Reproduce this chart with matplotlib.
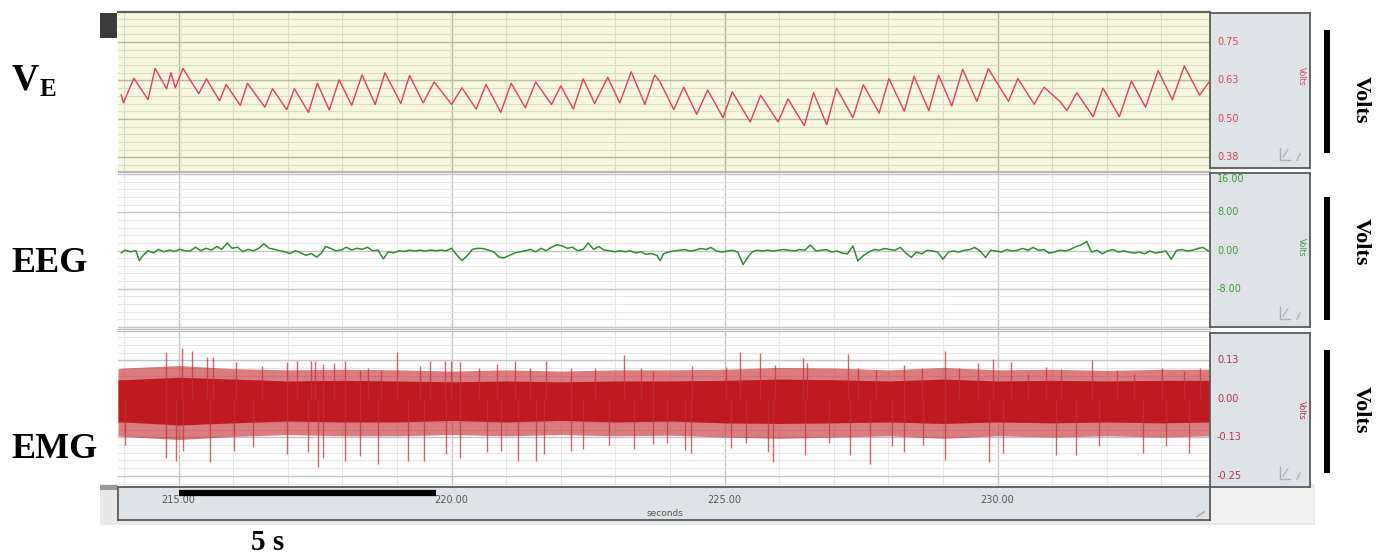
import numpy as np
import matplotlib.pyplot as plt
from matplotlib.patches import Rectangle
from matplotlib.ticker import MultipleLocator
from matplotlib.transforms import blended_transform_factory

# ---- data ----
t_lim = (213.89, 233.89)

# ventilation (V_E), peaks and troughs of the trace
ve_t = [213.95, 213.99, 214.18, 214.44, 214.57, 214.78, 214.86, 214.94, 215.08, 215.37,
        215.51, 215.75, 215.87, 216.13, 216.26, 216.58, 216.72, 216.98, 217.12, 217.38,
        217.54, 217.76, 217.94, 218.17, 218.36, 218.60, 218.78, 219.07, 219.23, 219.48,
        219.68, 220.00, 220.19, 220.45, 220.63, 220.90, 221.09, 221.35, 221.54, 221.83,
        222.00, 222.23, 222.41, 222.62, 222.86, 223.08, 223.29, 223.54, 223.72,
        223.81, 224.07, 224.25, 224.49, 224.69, 224.97, 225.14, 225.47, 225.66, 225.98,
        226.16, 226.46, 226.63, 226.87, 227.05, 227.35, 227.54, 227.83, 228.01, 228.29,
        228.47, 228.74, 228.92, 229.16, 229.36, 229.62, 229.83, 230.20, 230.37, 230.67,
        230.85, 231.14, 231.27, 231.45, 231.75, 231.93, 232.23, 232.45, 232.71, 232.94,
        233.20, 233.42, 233.70, 233.87]
ve_v = [0.578, 0.552, 0.632, 0.563, 0.664, 0.598, 0.650, 0.601, 0.664, 0.582,
        0.630, 0.559, 0.612, 0.544, 0.616, 0.538, 0.598, 0.530, 0.598, 0.521,
        0.616, 0.529, 0.627, 0.544, 0.643, 0.547, 0.650, 0.550, 0.641, 0.552,
        0.620, 0.547, 0.601, 0.532, 0.612, 0.521, 0.616, 0.536, 0.620, 0.547,
        0.607, 0.532, 0.630, 0.550, 0.635, 0.552, 0.653, 0.547, 0.643,
        0.623, 0.530, 0.603, 0.515, 0.594, 0.504, 0.588, 0.490, 0.577, 0.490,
        0.565, 0.478, 0.585, 0.481, 0.600, 0.504, 0.611, 0.519, 0.631, 0.525,
        0.638, 0.527, 0.642, 0.542, 0.661, 0.557, 0.663, 0.557, 0.631, 0.548,
        0.603, 0.557, 0.527, 0.585, 0.507, 0.600, 0.507, 0.623, 0.538, 0.657,
        0.562, 0.672, 0.577, 0.619]

# EEG trace
eeg_t = [213.95, 214.02, 214.12, 214.22, 214.28, 214.35, 214.44, 214.54, 214.63, 214.73,
         214.83, 214.92, 215.02, 215.12, 215.21, 215.31, 215.41, 215.50, 215.60, 215.70,
         215.79, 215.89, 215.98, 216.08, 216.18, 216.27, 216.37, 216.47, 216.56, 216.66,
         216.76, 216.85, 216.95, 217.04, 217.14, 217.24, 217.33, 217.43, 217.53, 217.62,
         217.69, 217.78, 217.88, 217.98, 218.07, 218.17, 218.26, 218.36, 218.46, 218.55,
         218.65, 218.75, 218.84, 218.94, 219.04, 219.13, 219.23, 219.33, 219.42, 219.52,
         219.61, 219.71, 219.81, 219.90, 220.00, 220.10, 220.19, 220.29, 220.38, 220.48,
         220.58, 220.67, 220.77, 220.87, 220.96, 221.06, 221.16, 221.25, 221.35, 221.44,
         221.54, 221.64, 221.73, 221.83, 221.93, 222.02, 222.12, 222.21, 222.31, 222.41,
         222.50, 222.60, 222.70, 222.79, 222.89, 222.99, 223.08, 223.18, 223.27, 223.37,
         223.47, 223.56, 223.66, 223.76, 223.82,
         223.88, 223.97, 224.07, 224.17, 224.27, 224.36, 224.46, 224.56, 224.66, 224.75,
         224.85, 224.95, 225.05, 225.14, 225.24, 225.34, 225.40, 225.50, 225.60, 225.69,
         225.79, 225.89, 225.99, 226.08, 226.18, 226.28, 226.37, 226.47, 226.57, 226.67,
         226.76, 226.86, 226.96, 227.06, 227.15, 227.25, 227.35, 227.44, 227.54, 227.64,
         227.74, 227.83, 227.93, 228.03, 228.12, 228.22, 228.32, 228.42, 228.51, 228.61,
         228.71, 228.81, 228.90, 229.00, 229.10, 229.19, 229.29, 229.39, 229.49, 229.58,
         229.68, 229.78, 229.87, 229.97, 230.07, 230.17, 230.26, 230.36, 230.46, 230.56,
         230.65, 230.75, 230.85, 230.94, 231.04, 231.14, 231.24, 231.33, 231.43, 231.53,
         231.63, 231.72, 231.82, 231.92, 232.01, 232.11, 232.21, 232.31, 232.40, 232.50,
         232.60, 232.69, 232.79, 232.89, 232.99, 233.08, 233.18, 233.28, 233.38, 233.47,
         233.57, 233.67, 233.76, 233.86]
eeg_v = [-0.50, 0.09, -0.27, -0.05, -2.12, -1.01, -0.05, -0.50, 0.24, -0.27,
         0.09, -0.20, 0.24, -0.05, -0.13, 0.69, -0.05, 0.46, 0.09, 0.83,
         0.24, 1.57, 0.46, 0.69, -0.27, 0.24, -0.05, 0.46, 1.42, 0.46,
         0.24, -0.05, -0.27, -0.64, -0.05, -0.50, -1.01, -0.64, -1.38, -0.50,
         0.83, 0.46, -0.05, 0.09, 0.69, 0.09, 0.46, 0.24, 0.69, -0.05,
         0.09, -1.75, -0.27, -0.50, -0.05, -0.20, 0.09, -0.13, 0.09, -0.13,
         0.09, -0.05, 0.09, -0.05, 0.46, -1.01, -2.12, -1.01, 0.24, 0.46,
         0.39, 0.09, -0.27, -1.38, -1.53, -1.01, -0.50, -0.27, -0.05, 0.24,
         -0.27, 0.46, -0.05, 0.69, 1.20, 0.98, 0.46, 0.69, -0.05, 0.24,
         1.57, 0.24, 0.83, 0.09, -0.05, -0.27, -0.05, -0.27, -0.05, -0.50,
         -0.27, -0.79, -0.64, -1.01, -2.12,
         -0.70, -0.33, -0.10, 0.05, 0.20, -0.10, 0.05, 0.42, 0.20, 0.64,
         -0.10, -0.33, -0.10, 0.05, -0.33, -2.93, -1.82, -0.33, 0.05, -0.10,
         0.05, -0.10, 0.05, 0.20, 0.05, -0.10, 0.20, 0.05, 1.16, -0.10,
         0.05, 0.20, -0.33, -0.10, -0.55, -0.70, 0.94, -2.19, -1.07, -0.33,
         0.20, 0.05, 0.42, 0.20, 0.05, 0.64, -0.55, -1.44, -0.33, -0.70,
         0.05, -0.10, -0.33, -1.82, -0.33, -0.10, -0.33, 0.05, 0.20, 0.64,
         -0.10, -1.44, 0.05, -0.10, -0.33, 0.20, -0.10, 0.05, 0.42, 0.05,
         0.64, 0.05, 0.20, -0.55, -0.33, 0.05, -0.10, 0.20, 0.79, 1.16,
         1.91, -0.33, 0.05, -0.70, -0.10, 0.20, -0.33, -0.10, -0.33, -0.55,
         -0.33, -0.70, -0.10, -0.55, -0.33, -0.10, -1.82, 0.05, 0.20, -0.10,
         0.05, 0.42, 0.64, -0.10]

# EMG: dense band (solid core + ragged fringe) and the tallest spikes
emg_env_t = [213.89, 214, 215, 216, 217, 218, 219, 220, 221, 222, 223,
             224, 225, 226, 227, 228, 229, 230, 231, 232, 233, 233.89]
emg_core_hi = [0.062, 0.062, 0.070, 0.064, 0.058, 0.060, 0.058, 0.055, 0.058, 0.055, 0.058,
               0.058, 0.060, 0.064, 0.062, 0.058, 0.064, 0.058, 0.060, 0.058, 0.060, 0.060]
emg_core_lo = [-0.075, -0.075, -0.085, -0.078, -0.072, -0.075, -0.075, -0.070, -0.075, -0.070, -0.075,
               -0.072, -0.078, -0.080, -0.078, -0.075, -0.080, -0.075, -0.078, -0.075, -0.078, -0.075]
emg_fringe_hi = [0.098, 0.100, 0.108, 0.098, 0.094, 0.096, 0.094, 0.090, 0.094, 0.090, 0.094,
                 0.094, 0.096, 0.102, 0.100, 0.094, 0.102, 0.094, 0.096, 0.092, 0.096, 0.096]
emg_fringe_lo = [-0.120, -0.122, -0.132, -0.122, -0.116, -0.120, -0.120, -0.116, -0.120, -0.116, -0.120,
                 -0.118, -0.124, -0.128, -0.124, -0.120, -0.128, -0.120, -0.124, -0.120, -0.124, -0.120]
emg_up_t = [214.76, 215.07, 215.25, 215.52, 215.63, 216.05, 216.53, 216.98, 217.16, 217.43,
            217.49, 217.65, 217.85, 218.04, 218.33, 218.46, 218.71, 219.00, 219.42, 219.61,
            219.87, 219.99, 220.16, 220.51, 220.83, 221.16, 221.44, 221.73, 222.18, 222.63,
            223.15, 223.47, 223.69, 224.40, 225.03, 225.29, 225.64, 225.92, 226.44, 226.50,
            227.26, 227.44, 227.77, 228.29, 228.61, 229.03, 229.29, 229.65, 229.91, 230.25,
            230.56, 230.88, 231.17, 231.72, 232.18, 232.50, 233.02, 233.41, 233.70]
emg_up_v = [0.152, 0.164, 0.156, 0.135, 0.137, 0.118, 0.107, 0.118, 0.122, 0.124,
            0.122, 0.112, 0.115, 0.122, 0.095, 0.101, 0.095, 0.152, 0.107, 0.124,
            0.124, 0.124, 0.118, 0.101, 0.112, 0.124, 0.101, 0.124, 0.101, 0.101,
            0.141, 0.101, 0.089, 0.106, 0.102, 0.152, 0.148, 0.111, 0.134, 0.117,
            0.144, 0.100, 0.094, 0.111, 0.100, 0.155, 0.100, 0.117, 0.129, 0.121,
            0.082, 0.102, 0.097, 0.125, 0.094, 0.082, 0.100, 0.090, 0.100]
emg_dn_t = [214.02, 214.76, 214.96, 215.08, 215.58, 216.02, 216.37, 216.98, 217.37, 217.55,
            217.65, 218.04, 218.33, 218.65, 219.20, 219.49, 219.90, 220.16, 220.64, 220.90,
            221.22, 221.54, 221.70, 222.18, 222.41, 222.89, 223.34, 223.69, 223.94, 224.27,
            224.38, 225.11, 225.40, 225.79, 225.89, 226.47, 226.92, 227.30, 227.67, 228.06,
            228.29, 228.64, 229.03, 229.84, 230.10, 231.07, 231.43, 231.85, 232.66, 233.08,
            233.50]
emg_dn_v = [-0.151, -0.191, -0.202, -0.168, -0.206, -0.168, -0.157, -0.180, -0.174, -0.220,
            -0.191, -0.202, -0.185, -0.211, -0.202, -0.202, -0.180, -0.191, -0.174, -0.168,
            -0.202, -0.202, -0.180, -0.168, -0.162, -0.151, -0.162, -0.145, -0.143, -0.166,
            -0.175, -0.160, -0.143, -0.172, -0.206, -0.183, -0.143, -0.183, -0.210, -0.154,
            -0.172, -0.149, -0.198, -0.206, -0.177, -0.183, -0.183, -0.154, -0.177, -0.154,
            -0.177]

time_ticks = [215, 220, 225, 230]
ve_ticks = [0.75, 0.625, 0.5, 0.375]
ve_labels = ['0.75', '0.63', '0.50', '0.38']
eeg_ticks = [16, 8, 0, -8]
eeg_labels = ['16.00', '8.00', '0.00', '-8.00']
emg_ticks = [0.125, 0.0, -0.125, -0.25]
emg_labels = ['0.13', '0.00', '-0.13', '-0.25']

# ---- layout (pixel boxes) ----
W, H = 1386, 557
fig = plt.figure(figsize=(W / 100, H / 100), dpi=100)


def px_axes(x0, y0, x1, y1):
    return fig.add_axes([x0 / W, 1 - y1 / H, (x1 - x0) / W, (y1 - y0) / H])


def px_rect(x0, y0, x1, y1, color, z=0):
    fig.add_artist(Rectangle((x0 / W, 1 - y1 / H), (x1 - x0) / W, (y1 - y0) / H,
                             transform=fig.transFigure, facecolor=color,
                             edgecolor='none', zorder=z))


# grey frame behind the time axis
px_rect(100, 484, 1315, 525, '#e8e8e8')
px_rect(1210, 487, 1313, 523, '#f1f1f1')
px_rect(100, 485, 117, 490, '#9a9a9a', 1)
px_rect(100, 13, 117, 38, '#3b3b3b', 1)

serif = 'Liberation Serif'


def style_panel(ax, face, ylim, major, minor, gmaj, gmin):
    ax.set_facecolor(face)
    ax.set_xlim(*t_lim)
    ax.set_ylim(*ylim)
    ax.xaxis.set_major_locator(MultipleLocator(5))
    ax.xaxis.set_minor_locator(MultipleLocator(1))
    ax.yaxis.set_major_locator(MultipleLocator(major))
    ax.yaxis.set_minor_locator(MultipleLocator(minor))
    ax.grid(True, which='major', color=gmaj, lw=1.0)
    ax.grid(True, which='minor', color=gmin, lw=0.8)
    ax.set_axisbelow(True)
    ax.tick_params(which='both', length=0, labelbottom=False, labelleft=False)
    for s in ax.spines.values():
        s.set_color('#b8b8b8')
        s.set_linewidth(0.8)
    ax.spines['left'].set_visible(False)


ax_ve = px_axes(118, 12, 1210, 171)
style_panel(ax_ve, '#f8f8e1', (0.331, 0.847), 0.125, 0.025, '#b4b8a4', '#d9dcc6')
ax_ve.spines['top'].set_color('#606060')
ax_ve.spines['top'].set_linewidth(1.6)
ax_ve.plot(ve_t, ve_v, color='#e2404f', lw=1.0)

ax_eeg = px_axes(118, 172, 1210, 329)
style_panel(ax_eeg, 'white', (-16.4, 16.4), 8, 1.6, '#c4c4c4', '#e6e6e6')
ax_eeg.plot(eeg_t, eeg_v, color='#2f8f2f', lw=1.1)

ax_emg = px_axes(118, 331, 1210, 487)
style_panel(ax_emg, 'white', (-0.286, 0.220), 0.125, 0.025, '#c4c4c4', '#e6e6e6')
ax_emg.vlines(emg_up_t, 0, emg_up_v, color='#c2323c', lw=1.0, alpha=0.75)
ax_emg.vlines(emg_dn_t, 0, emg_dn_v, color='#c2323c', lw=1.0, alpha=0.75)
ax_emg.fill_between(emg_env_t, emg_fringe_lo, emg_fringe_hi, color='#c4262c', alpha=0.6, lw=0)
ax_emg.fill_between(emg_env_t, emg_core_lo, emg_core_hi, color='#bf1a20', lw=0)

# right-hand scale boxes
box_specs = [
    ((1210, 13, 1310, 168), ax_ve, ve_ticks, ve_labels, '#e2405a', 0.59),
    ((1210, 173, 1310, 327), ax_eeg, eeg_ticks, eeg_labels, '#3c9a3c', 0.52),
    ((1210, 333, 1310, 487), ax_emg, emg_ticks, emg_labels, '#b43048', 0.50),
]
for (x0, y0, x1, y1), src, ticks, labels, col, vy in box_specs:
    bx = px_axes(x0, y0, x1, y1)
    bx.set_facecolor('#dde3e6')
    bx.set_xticks([])
    bx.set_yticks([])
    for s in bx.spines.values():
        s.set_color('#5a5a5a')
        s.set_linewidth(1.3)
    trans = blended_transform_factory(bx.transAxes, src.transData)
    for tv, tl in zip(ticks, labels):
        # top label of the EEG scale sits just inside the box
        va = 'top' if tv == 16 else 'center'
        bx.text(0.07, tv, tl, transform=trans, ha='left', va=va,
                fontsize=7, color=col, clip_on=False)
    bx.text(0.91, vy, 'Volts', transform=bx.transAxes, rotation=270,
            ha='center', va='center', fontsize=5.5, color=col)
    bx.plot([0.70, 0.70, 0.80], [0.13, 0.05, 0.05], transform=bx.transAxes,
            color='#a8b0b4', lw=1.0)
    bx.plot([0.73, 0.78], [0.07, 0.12], transform=bx.transAxes, color='#a8b0b4', lw=0.8)
    bx.plot([0.87, 0.90], [0.05, 0.09], transform=bx.transAxes, color='#b0b8bc', lw=1.2)

# time axis strip
ax_t = px_axes(118, 487, 1210, 520)
ax_t.set_facecolor('#dde3e6')
ax_t.set_xlim(*t_lim)
ax_t.set_ylim(0, 1)
ax_t.set_xticks([])
ax_t.set_yticks([])
for s in ax_t.spines.values():
    s.set_color('#5a5a5a')
    s.set_linewidth(1.3)
for tt in time_ticks:
    ax_t.text(tt, 0.62, f'{tt:.2f}', ha='center', va='center', fontsize=7, color='#555555')
ax_t.text(0.501, 0.2, 'seconds', transform=ax_t.transAxes, ha='center', va='center',
          fontsize=6.5, color='#555555')
ax_t.plot([0.988, 0.995], [0.1, 0.25], transform=ax_t.transAxes, color='#a0a8ac', lw=1)
# 5 s scale bar
ax_t.plot([215, 219.71], [0.82, 0.82], color='black', lw=4.5, solid_capstyle='butt',
          clip_on=False, zorder=5)
fig.text(268 / W, 1 - 543 / H, '5 s', ha='center', va='center', fontsize=21,
         fontweight='bold', family=serif)

# channel names on the left
fig.text(12 / W, 1 - 90 / H, 'V', ha='left', va='baseline', fontsize=27,
         fontweight='bold', family=serif)
fig.text(40 / W, 1 - 96 / H, 'E', ha='left', va='baseline', fontsize=18,
         fontweight='bold', family=serif)
fig.text(11 / W, 1 - 272 / H, 'EEG', ha='left', va='baseline', fontsize=26,
         fontweight='bold', family=serif)
fig.text(11 / W, 1 - 458 / H, 'EMG', ha='left', va='baseline', fontsize=26,
         fontweight='bold', family=serif)

# black bars and "Volts" on the right
for (y0, y1), yc in zip([(30, 153), (197, 320), (350, 473)], [100, 242, 410]):
    px_rect(1324, y0, 1330, y1, 'black', 2)
    fig.text(1361 / W, 1 - yc / H, 'Volts', rotation=270, ha='center', va='center',
             fontsize=16, fontweight='bold', family=serif)

fig.savefig('out.png', dpi=100)
